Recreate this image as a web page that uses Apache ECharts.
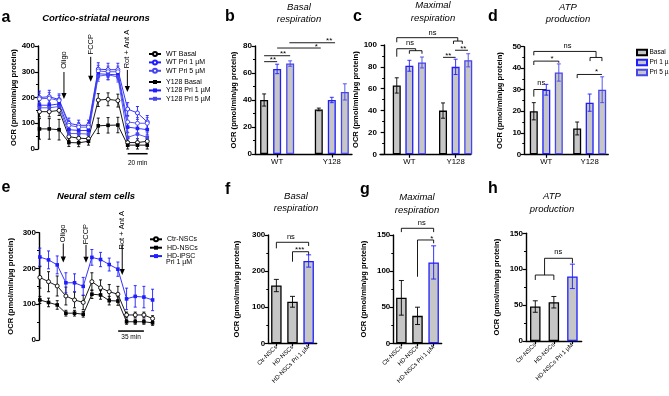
<!DOCTYPE html>
<html>
<head>
<meta charset="utf-8">
<script src="https://cdn.jsdelivr.net/npm/echarts@6.0.0/dist/echarts.min.js"></script>
<style>
  html, body { margin: 0; padding: 0; background: #fff; }
  #chart { width: 669px; height: 396px; }
</style>
</head>
<body>
<div id="chart"></div>
<script>
// ---- panel a: cortico-striatal neurons, OCR trace ----
const timeA = [1, 2, 3, 4, 5, 6, 7, 8, 9, 10, 11, 12]
const wtBasal = [145, 145, 150, 48, 42, 40, 190, 193, 188, 25, 25, 30]
const wtBasalSd = [20, 20, 20, 15, 15, 15, 25, 25, 25, 15, 15, 12]
const wtPri1 = [200, 203, 192, 100, 92, 92, 310, 308, 308, 155, 140, 105]
const wtPri1Sd = [25, 25, 22, 20, 20, 20, 25, 25, 25, 25, 25, 25]
const wtPri5 = [195, 197, 188, 92, 85, 85, 303, 300, 300, 105, 100, 100]
const wtPri5Sd = [22, 22, 20, 18, 18, 18, 22, 22, 22, 22, 22, 22]
const y128Basal = [78, 78, 75, 25, 24, 30, 90, 92, 93, 15, 15, 15]
const y128BasalSd = [40, 40, 40, 15, 15, 15, 30, 30, 30, 15, 15, 15]
const y128Pri1 = [170, 170, 175, 75, 72, 72, 292, 290, 288, 85, 80, 75]
const y128Pri1Sd = [20, 20, 20, 18, 18, 18, 20, 20, 20, 20, 20, 20]
const y128Pri5 = [160, 160, 165, 60, 60, 58, 283, 288, 280, 45, 58, 45]
const y128Pri5Sd = [20, 20, 20, 15, 15, 15, 20, 20, 20, 18, 18, 18]

// ---- panels b-d: WT / Y128 bars (values in group order WT, Y128) ----
const groupNames = ['WT', 'Y128']
const bBasal = [40, 33], bBasalSd = [4.5, 1]
const bPri1 = [63, 40], bPri1Sd = [3.5, 2]
const bPri5 = [67, 46], bPri5Sd = [2, 6]
const cBasal = [63, 40], cBasalSd = [7, 7]
const cPri1 = [81, 80], cPri1Sd = [5, 7]
const cPri5 = [84, 86], cPri5Sd = [5, 6]
const dBasal = [20, 12], dBasalSd = [4, 3]
const dPri1 = [30, 24], dPri1Sd = [2.5, 4]
const dPri5 = [38, 30], dPri5Sd = [4, 6]

// ---- panel e: neural stem cells, OCR trace ----
const timeE = [1, 2, 3, 4, 5, 6, 7, 8, 9, 10, 11, 12, 13, 14]
const ctrNsc = [175, 163, 151, 123, 112, 105, 163, 146, 135, 128, 70, 70, 70, 60]
const ctrNscSd = [30, 28, 28, 25, 22, 20, 25, 22, 20, 22, 8, 8, 8, 8]
const hdNsc = [112, 105, 98, 75, 75, 72, 128, 126, 110, 109, 51, 51, 51, 48]
const hdNscSd = [10, 12, 12, 8, 8, 8, 12, 12, 12, 12, 7, 7, 7, 7]
const hdPri = [232, 224, 210, 160, 160, 150, 231, 225, 211, 198, 115, 122, 120, 112]
const hdPriSd = [25, 25, 25, 28, 25, 25, 22, 20, 18, 20, 30, 30, 30, 30]

// ---- panels f-h: NSC bars ----
const nscCats = ['Ctr-NSCs', 'HD-NSCs', 'HD-NSCs Pri 1 µM']
const fVals = [160, 115, 228], fSd = [17, 15, 17]
const gVals = [63, 38, 112], gSd = [24, 12, 23]
const hVals = [48, 54, 90], hSd = [8, 8, 17]

// ---- look ----
const FONT = '"Liberation Sans", Arial, sans-serif'
const BLACK = '#000', BLUE1 = '#1e1eff', BLUE2 = '#4646ec', FILL = '#c6c6c6'
const yName = 'OCR (pmol/min/µg protein)'
const nscBorders = [BLACK, BLACK, BLUE1]

// bar x slots for b, c, d  (WT basal/pri1/pri5, Y128 basal/pri1/pri5)
const slotsB = [[1, 5.2], [2, 6.2], [3, 7.2]]
const slotsC = [[1, 4.67], [2, 5.67], [3, 6.67]]
const slotsD = [[1, 4.47], [2, 5.47], [3, 6.47]]

const grids = [
  {left: 38, top: 46, width: 112, height: 103},     // a
  {left: 255, top: 46, width: 97, height: 108},     // b
  {left: 380, top: 45, width: 91, height: 109.3},   // c
  {left: 524.3, top: 46.7, width: 84, height: 107.6}, // d
  {left: 39, top: 232.7, width: 116, height: 107.3}, // e
  {left: 268.3, top: 235, width: 48.4, height: 108.3}, // f
  {left: 393.3, top: 235, width: 48.4, height: 108.3}, // g
  {left: 526, top: 233.3, width: 55.7, height: 107.7}  // h
].map(g => Object.assign({outerBoundsMode: 'none', containLabel: false}, g))

const zip2 = (xs, ys) => xs.map((x, i) => [x, ys[i]])
const zip3 = (xs, ys, es) => xs.map((x, i) => [x, ys[i], es[i]])

function errItem(colorOf, cap) {
  return function (params, api) {
    const x = api.value(0), y = api.value(1), e = api.value(2)
    const hi = api.coord([x, y + e]), lo = api.coord([x, y - e])
    const st = {stroke: colorOf(params.dataIndex), lineWidth: 0.9}
    return {type: 'group', children: [
      {type: 'line', shape: {x1: hi[0], y1: hi[1], x2: lo[0], y2: lo[1]}, style: st},
      {type: 'line', shape: {x1: hi[0] - cap, y1: hi[1], x2: hi[0] + cap, y2: hi[1]}, style: st},
      {type: 'line', shape: {x1: lo[0] - cap, y1: lo[1], x2: lo[0] + cap, y2: lo[1]}, style: st}
    ]}
  }
}

function yAxis(g, max, interval, gap) {
  return {
    type: 'value', gridIndex: g, min: 0, max, interval,
    name: yName, nameLocation: 'middle', nameGap: gap,
    nameTextStyle: {fontFamily: FONT, fontWeight: 'bold', fontSize: 7.6, color: BLACK},
    axisLine: {show: true, lineStyle: {color: BLACK, width: 1.4}},
    axisTick: {show: true, length: 3.5, lineStyle: {color: BLACK, width: 1.2}},
    minorTick: {show: true, splitNumber: 2, length: 2, lineStyle: {color: BLACK, width: 1}},
    axisLabel: {fontFamily: FONT, fontWeight: 'bold', fontSize: 8, color: BLACK, margin: 3},
    splitLine: {show: false}
  }
}

function hiddenX(g, min, max) {
  return {type: 'value', gridIndex: g, min, max, show: false}
}

function groupX(g, min, max, ticks) {
  return {
    type: 'value', gridIndex: g, min, max,
    axisLine: {show: true, onZero: false, lineStyle: {color: BLACK, width: 1.3}},
    axisTick: {show: true, customValues: ticks, length: 3.5, lineStyle: {color: BLACK, width: 1.2}},
    axisLabel: {customValues: ticks, fontFamily: FONT, fontSize: 7.8, color: BLACK, margin: 4,
      formatter: v => {
        let k = 0
        ticks.forEach((t, i) => { if (Math.abs(t - v) < Math.abs(ticks[k] - v)) k = i })
        return groupNames[k]
      }},
    splitLine: {show: false}
  }
}

function catX(g) {
  return {
    type: 'category', gridIndex: g, data: nscCats,
    axisLine: {show: true, onZero: false, lineStyle: {color: BLACK, width: 1.3}},
    axisTick: {show: true, alignWithLabel: true, length: 3, lineStyle: {color: BLACK, width: 1.2}},
    axisLabel: {interval: 0, rotate: 45, fontFamily: FONT, fontSize: 6, color: BLACK, margin: 3},
    splitLine: {show: false}
  }
}

function trace(g, name, xs, ys, es, color, open, sym) {
  return [
    {type: 'custom', xAxisIndex: g, yAxisIndex: g, data: zip3(xs, ys, es), encode: {x: 0, y: 1},
      renderItem: errItem(() => color, 1.5), z: 2, silent: true},
    {type: 'line', name, xAxisIndex: g, yAxisIndex: g, data: zip2(xs, ys),
      symbol: sym, symbolSize: open ? 4 : 3.6, showSymbol: true, z: 3, silent: true,
      lineStyle: {color, width: 0.9},
      itemStyle: open ? {color: '#fff', borderColor: color, borderWidth: 0.9}
                      : {color, borderColor: color, borderWidth: 0}}
  ]
}

function bars(g, name, xs, ys, es, color) {
  return [
    {type: 'bar', name, xAxisIndex: g, yAxisIndex: g, data: zip2(xs, ys), barWidth: 8, barGap: '-100%',
      itemStyle: {color: FILL, borderColor: color, borderWidth: 1.3}, z: 2, silent: true},
    {type: 'custom', xAxisIndex: g, yAxisIndex: g, data: zip3(xs, ys, es), encode: {x: 0, y: 1},
      renderItem: errItem(() => color, 2), z: 3, silent: true}
  ]
}

function nscBars(g, vals, errs) {
  return [
    {type: 'bar', xAxisIndex: g, yAxisIndex: g, barWidth: 10.5, silent: true,
      data: vals.map((v, i) => ({value: v, itemStyle: {borderColor: nscBorders[i]}})),
      itemStyle: {color: FILL, borderWidth: 1.3}, z: 2},
    {type: 'custom', xAxisIndex: g, yAxisIndex: g, data: vals.map((v, i) => [i, v, errs[i]]),
      encode: {x: 0, y: 1}, renderItem: errItem(i => nscBorders[i], 2.5), z: 3, silent: true}
  ]
}

const series = [].concat(
  trace(0, 'WT Basal', timeA, wtBasal, wtBasalSd, BLACK, true, 'circle'),
  trace(0, 'WT Pri 1 µM', timeA, wtPri1, wtPri1Sd, BLUE1, true, 'circle'),
  trace(0, 'WT Pri 5 µM', timeA, wtPri5, wtPri5Sd, BLUE2, true, 'circle'),
  trace(0, 'Y128 Basal', timeA, y128Basal, y128BasalSd, BLACK, false, 'rect'),
  trace(0, 'Y128 Pri 1 µM', timeA, y128Pri1, y128Pri1Sd, BLUE1, false, 'rect'),
  trace(0, 'Y128 Pri 5 µM', timeA, y128Pri5, y128Pri5Sd, BLUE2, false, 'rect'),
  bars(1, 'Basal', slotsB[0], bBasal, bBasalSd, BLACK),
  bars(1, 'Pri 1 µM', slotsB[1], bPri1, bPri1Sd, BLUE1),
  bars(1, 'Pri 5 µM', slotsB[2], bPri5, bPri5Sd, BLUE2),
  bars(2, 'Basal', slotsC[0], cBasal, cBasalSd, BLACK),
  bars(2, 'Pri 1 µM', slotsC[1], cPri1, cPri1Sd, BLUE1),
  bars(2, 'Pri 5 µM', slotsC[2], cPri5, cPri5Sd, BLUE2),
  bars(3, 'Basal', slotsD[0], dBasal, dBasalSd, BLACK),
  bars(3, 'Pri 1 µM', slotsD[1], dPri1, dPri1Sd, BLUE1),
  bars(3, 'Pri 5 µM', slotsD[2], dPri5, dPri5Sd, BLUE2),
  trace(4, 'Ctr-NSCs', timeE, ctrNsc, ctrNscSd, BLACK, true, 'circle'),
  trace(4, 'HD-NSCs', timeE, hdNsc, hdNscSd, BLACK, false, 'rect'),
  trace(4, 'HD-iPSC Pri 1 µM', timeE, hdPri, hdPriSd, BLUE1, false, 'rect'),
  nscBars(5, fVals, fSd),
  nscBars(6, gVals, gSd),
  nscBars(7, hVals, hSd)
)

const legendText = {fontFamily: FONT, fontSize: 7, color: BLACK, lineHeight: 8.4}
const legendBase = {orient: 'vertical', padding: 0, itemWidth: 12, itemHeight: 5, itemGap: 0,
  selectedMode: false, textStyle: legendText}
const legend = [
  Object.assign({data: ['WT Basal', 'WT Pri 1 µM', 'WT Pri 5 µM'], left: 148, top: 49.8}, legendBase),
  Object.assign({data: ['Y128 Basal', 'Y128 Pri 1 µM', 'Y128 Pri 5 µM'], left: 148, top: 77.8}, legendBase),
  Object.assign({}, legendBase, {data: ['Basal', 'Pri 1 µM', 'Pri 5 µM'], left: 636, top: 48.3, icon: 'rect',
    itemWidth: 10, itemHeight: 5.5, itemGap: 1.6,
    textStyle: Object.assign({}, legendText, {fontSize: 6.5, padding: [0, 0, 0, -2.5]})}),
  Object.assign({data: ['Ctr-NSCs', 'HD-NSCs', 'HD-iPSC Pri 1 µM'], left: 149, top: 235.1,
    formatter: n => n === 'HD-iPSC Pri 1 µM' ? 'HD-iPSC' : n}, legendBase)
]

const option = {
  animation: false,
  backgroundColor: '#fff',
  grid: grids,
  xAxis: [
    hiddenX(0, 0.85, 12.28),
    groupX(1, 0.3, 7.75, [2, 6.2]),
    groupX(2, -0.33, 6.89, [2, 5.67]),
    groupX(3, 0.24, 6.96, [2, 5.47]),
    hiddenX(4, 0.9, 14.28),
    catX(5), catX(6), catX(7)
  ],
  yAxis: [
    yAxis(0, 400, 100, 20),
    yAxis(1, 80, 20, 17.5),
    yAxis(2, 100, 20, 16),
    yAxis(3, 50, 10, 20),
    yAxis(4, 300, 100, 24),
    yAxis(5, 300, 100, 27),
    yAxis(6, 150, 50, 25.5),
    yAxis(7, 150, 50, 25.5)
  ],
  legend,
  series
}

// significance brackets, in each panel's data units
const brackets = [
  {g: 1, lines: [[[1, 68.4], [2, 68.4]], [[1, 72.8], [3, 72.8]], [[2, 78.5], [5.35, 78.5]], [[2.94, 82.4], [6.45, 82.4]]],
    labels: [[1.68, 71.3, '**'], [2.45, 75.6, '**'], [5.0, 80.8, '*'], [6.0, 85.2, '**']]},
  {g: 2, lines: [[[1, 102.5], [1, 106.7], [5.84, 106.7], [5.84, 103.6]], [[5.5, 101], [5.5, 103.6], [6.2, 103.6], [6.2, 101]],
      [[1, 89.3], [1, 96.6], [2.5, 96.6], [2.5, 94.8]], [[2, 92], [2, 94.8], [3, 94.8], [3, 92]],
      [[4.67, 88.7], [5.67, 88.7]], [[5.62, 95.2], [6.65, 95.2]]],
    labels: [[3.83, 111, 'ns'], [2.05, 101.5, 'ns'], [5.09, 91.8, '**'], [6.28, 98.5, '**']]},
  {g: 3, lines: [[[1, 46], [1, 47.8], [5.98, 47.8], [5.98, 45]], [[5.5, 43.3], [5.5, 45], [6.45, 45], [6.45, 43.3]],
      [[1, 41.5], [1, 43.3], [3, 43.3], [3, 42.5]], [[1, 26.8], [1, 30.1], [1.98, 30.1], [1.98, 28.9]],
      [[4.47, 35.4], [4.47, 37.1], [6.45, 37.1]]],
    labels: [[3.7, 50.5, 'ns'], [2.46, 45.2, '*'], [1.6, 33.1, 'ns'], [6.03, 39.4, '*']]},
  {g: 5, lines: [[[0, 263], [0, 279.8], [2, 279.8], [2, 269.5]], [[1, 226], [1, 253.7], [2, 253.7], [2, 244.6]]],
    labels: [[0.9, 295.3, 'ns'], [1.45, 264.8, '***']]},
  {g: 6, lines: [[[0, 154], [0, 159.3], [2, 159.3], [2, 154]], [[1, 92.2], [1, 143.1], [2, 143.1], [2, 138.5]]],
    labels: [[1.26, 166.2, 'ns'], [1.88, 147.6, '*']]},
  {g: 7, lines: [[[0.5, 91.9], [0.5, 115.2], [2, 115.2], [2, 108.2]], [[0, 85], [0, 91.9], [1, 91.9], [1, 85]]],
    labels: [[1.24, 123.5, 'ns']]}
]

// injection arrows: x, label centre, arrow top, arrow tip (data units)
const injections = [
  {g: 0, x: 3.5, ty: 345.6, y1: 299, y2: 194, text: 'Oligo'},
  {g: 0, x: 6.23, ty: 407, y1: 358, y2: 261, text: 'FCCP'},
  {g: 0, x: 9.97, ty: 388, y1: 307, y2: 221, text: 'Rot + Ant A'},
  {g: 4, x: 3.7, ty: 298, y1: 270, y2: 217, text: 'Oligo'},
  {g: 4, x: 6.32, ty: 296, y1: 266, y2: 216, text: 'FCCP'},
  {g: 4, x: 10.5, ty: 307, y1: 268, y2: 182, text: 'Rot + Ant A'}
]
const scaleBars = [
  {g: 0, x1: 10.0, x2: 12.04, y: -18.3, ty: -54, text: '20 min'},
  {g: 4, x1: 10.03, x2: 13.0, y: 25, ty: 9, text: '35 min'}
]

const letters = [['a', 1.5, 17.5], ['b', 225, 17], ['c', 353, 16.5], ['d', 488, 17],
  ['e', 1.5, 188], ['f', 225, 189.5], ['g', 360, 189.5], ['h', 488, 189]]
const titles = [
  ['Cortico-striatal neurons', 96, 18, true], ['Basal\nrespiration', 299, 13.5, false],
  ['Maximal\nrespiration', 433, 12, false], ['ATP\nproduction', 568, 13.5, false],
  ['Neural stem cells', 96, 196, true], ['Basal\nrespiration', 296, 202.5, false],
  ['Maximal\nrespiration', 417, 204, false], ['ATP\nproduction', 552, 203, false]
]

const chart = echarts.init(document.getElementById('chart'))
chart.setOption(option)

function toPx(g, x, y) {
  const a = chart.convertToPixel({gridIndex: g}, [0, y])
  const b = chart.convertToPixel({gridIndex: g}, [1, y])
  return [a[0] + (b[0] - a[0]) * x, a[1]]
}

const gfx = []
const txt = (text, x, y, size, extra) => Object.assign({type: 'text', x, y, silent: true,
  style: {text, fontFamily: FONT, fontSize: size, fill: BLACK, align: 'center', verticalAlign: 'middle'}}, extra || {})

brackets.forEach(b => {
  b.lines.forEach(l => gfx.push({type: 'polyline', silent: true,
    shape: {points: l.map(p => toPx(b.g, p[0], p[1]))}, style: {stroke: BLACK, lineWidth: 0.9, fill: null}}))
  b.labels.forEach(([x, y, t]) => {
    const p = toPx(b.g, x, y)
    const star = t.indexOf('*') >= 0
    gfx.push(txt(t, p[0], p[1] + (star ? 1.8 : 0), star ? 8 : 7.5))
  })
})

injections.forEach(a => {
  const t = toPx(a.g, a.x, a.ty), top = toPx(a.g, a.x, a.y1), tip = toPx(a.g, a.x, a.y2)
  const r = txt(a.text, t[0], t[1], 7.5)
  r.rotation = Math.PI / 2
  gfx.push(r)
  gfx.push({type: 'line', silent: true, shape: {x1: top[0], y1: top[1], x2: tip[0], y2: tip[1] - 4},
    style: {stroke: BLACK, lineWidth: 1}})
  gfx.push({type: 'polygon', silent: true,
    shape: {points: [[tip[0], tip[1]], [tip[0] - 2.6, tip[1] - 6], [tip[0] + 2.6, tip[1] - 6]]},
    style: {fill: BLACK}})
})

scaleBars.forEach(s => {
  const p1 = toPx(s.g, s.x1, s.y), p2 = toPx(s.g, s.x2, s.y), t = toPx(s.g, (s.x1 + s.x2) / 2, s.ty)
  gfx.push({type: 'line', silent: true, shape: {x1: p1[0], y1: p1[1], x2: p2[0], y2: p2[1]},
    style: {stroke: BLACK, lineWidth: 1.5}})
  gfx.push(txt(s.text, t[0], t[1], 6.5))
})

// second line of the HD-iPSC legend entry
gfx.push({type: 'text', x: 166, y: 261.8, silent: true,
  style: {text: 'Pri 1 µM', fontFamily: FONT, fontSize: 7, fill: BLACK, align: 'left', verticalAlign: 'middle'}})

letters.forEach(([l, x, y]) => gfx.push({type: 'text', x, y, silent: true,
  style: {text: l, fontFamily: FONT, fontSize: 16, fontWeight: 'bold', fill: BLACK, align: 'left', verticalAlign: 'middle'}}))

titles.forEach(([t, x, y, bold]) => gfx.push({type: 'text', x, y, silent: true,
  style: {text: t, fontFamily: FONT, fontSize: 9.5, fontStyle: 'italic', fontWeight: bold ? 'bold' : 'normal',
    fill: BLACK, align: 'center', verticalAlign: 'middle', lineHeight: 12.5}}))

chart.setOption({graphic: gfx})
</script>
</body>
</html>
